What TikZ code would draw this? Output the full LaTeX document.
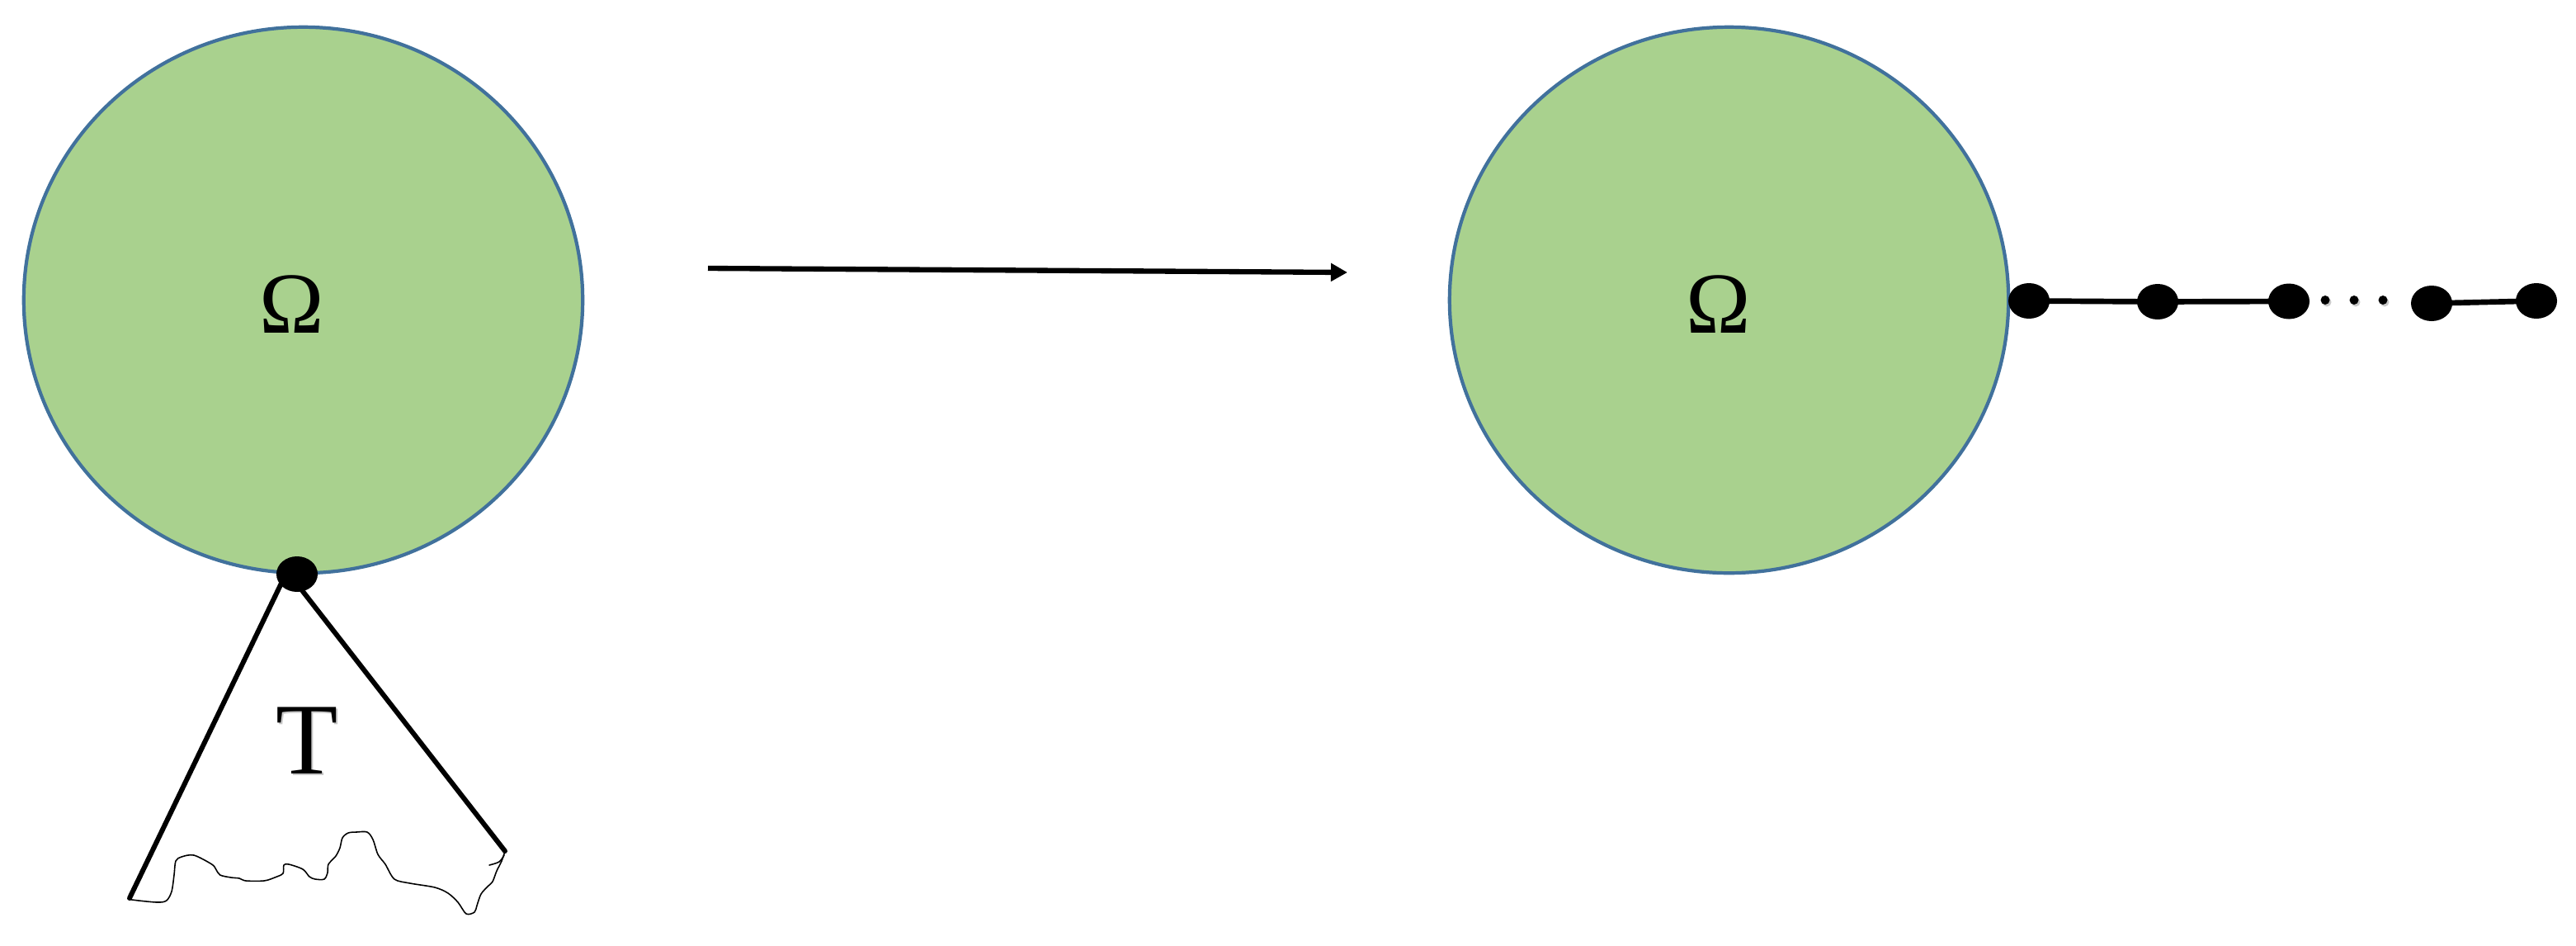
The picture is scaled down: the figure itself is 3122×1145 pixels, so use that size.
\documentclass[tikz,border=0pt]{standalone}
\usepackage{fontspec}
\setmainfont{Liberation Serif}
\usetikzlibrary{arrows.meta,shapes.geometric}
\definecolor{domfill}{RGB}{169,209,142}
\definecolor{domline}{RGB}{65,113,156}
\begin{document}
\begin{tikzpicture}[x=0.01cm,y=-0.01cm,
  omegaregion/.style={ellipse, draw=domline, fill=domfill, line width=1.2pt, inner sep=0pt,
                 minimum width=6.77cm, minimum height=6.61cm},
  bigdot/.style={ellipse, fill=black, inner sep=0pt, minimum width=0.5cm, minimum height=0.43cm},
  smalldot/.style={circle, fill=black, inner sep=0pt, minimum size=0.11cm},
  dotshadow/.style={circle, fill=black!35, opacity=0.6, inner sep=0pt, minimum size=0.11cm},
  omlbl/.style={inner sep=0pt, anchor=base, font=\fontsize{30}{36}\selectfont},
  tlbl/.style={inner sep=0pt, anchor=base, font=\fontsize{35}{42}\selectfont},
  treeline/.style={line width=1.7pt, line cap=round},
  wavy/.style={line width=0.45pt, line join=round, line cap=round},
  chainline/.style={line width=1.9pt},
  maparrow/.style={line width=1.8pt, -{Triangle[length=0.2cm, width=0.21cm]}}
]
\useasboundingbox (0,0) rectangle (3122,1145);

% left region with tree
\node[omegaregion] (dom1) at (367.5,363.5) {};
\node[omlbl] (om1) at (354,403) {Ω};

\coordinate (apex) at (348,692);
\coordinate (tl) at (157,1088);
\coordinate (tr) at (612,1031);
\draw[treeline] (apex) -- (tl);
\draw[treeline] (apex) -- (tr);
\node[bigdot] (root) at (360,695.5) {};

\draw[wavy] plot[smooth, tension=0.5] coordinates {
 (157,1088) (160,1090) (190,1093) (201.7,1091) (208,1080) (211,1060) (213,1043)
 (220,1038) (235,1036) (256.7,1047) (261.7,1053) (266.7,1060) (280,1063) (290,1064)
 (298,1067) (320,1067) (333,1063) (343,1058) (344,1048) (350,1047) (367,1053)
 (375,1062) (382,1065) (393,1065) (397,1057) (398,1047) (407,1037) (412,1027)
 (415,1015) (422,1009) (432,1008) (445,1008) (452,1017) (458,1035) (467,1047)
 (478,1065) (497,1070) (527,1075) (543,1082) (555,1093) (565,1107) (575,1105)
 (578,1097) (583,1083) (592,1073) (597,1068) (602,1055) (608,1043) (612,1031)};
\draw[wavy] plot[smooth, tension=0.5] coordinates {(611,1036) (605,1044) (593,1048)};

\node[tlbl, text=black!30, opacity=0.7] (tshadow) at (374.5,939.5) {T};
\node[tlbl] (tlab) at (372.5,937) {T};

% arrow
\coordinate (arrS) at (858,325);
\coordinate (arrE) at (1633,330);
\draw[maparrow] (arrS) -- (arrE);

% right region with chain
\node[omegaregion] (dom2) at (2095.5,363.5) {};
\node[omlbl] (om2) at (2083,403) {Ω};

\node[bigdot] (d1) at (2459,364.5) {};
\node[bigdot] (d2) at (2615,365.5) {};
\node[bigdot] (d3) at (2774,365) {};
\node[bigdot] (d4) at (2947,367.5) {};
\node[bigdot] (d5) at (3074,364.5) {};
\draw[chainline] (d1.center) -- (d2.center) -- (d3.center);
\draw[chainline] (d4.center) -- (d5.center);

\node[dotshadow] (s1s) at (2820,366) {};
\node[dotshadow] (s2s) at (2855,366) {};
\node[dotshadow] (s3s) at (2890,366) {};
\node[smalldot] (s1) at (2818,363.5) {};
\node[smalldot] (s2) at (2853,363.5) {};
\node[smalldot] (s3) at (2888,363.5) {};
\end{tikzpicture}
\end{document}
